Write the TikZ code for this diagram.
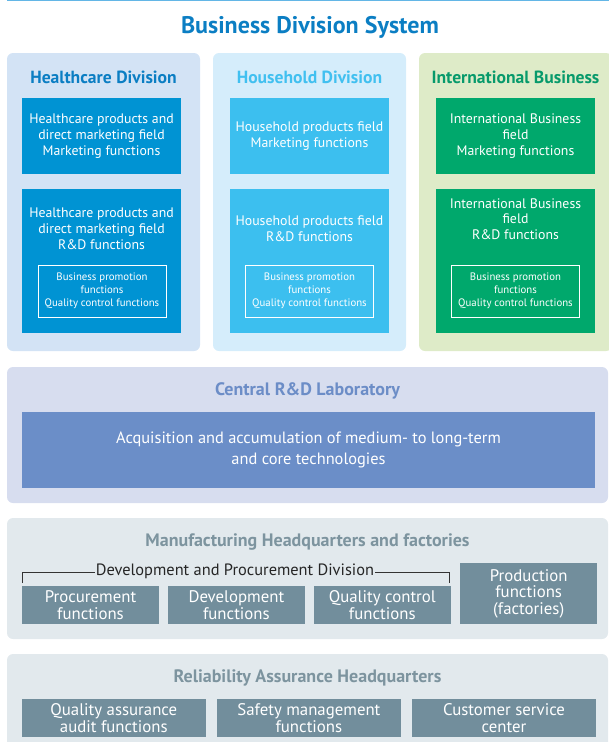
\documentclass[tikz,border=0pt]{standalone}
\usepackage{fontspec}
\setmainfont{PT Sans}
\usetikzlibrary{positioning}
\definecolor{topline}{HTML}{63B6E6}
\definecolor{maintitle}{HTML}{0B7EC3}
\definecolor{hcbg}{HTML}{D3E3F5}
\definecolor{hcblue}{HTML}{0093D3}
\definecolor{hhbg}{HTML}{D5EDFB}
\definecolor{hhtitle}{HTML}{41C0F0}
\definecolor{hhblue}{HTML}{3CBFEF}
\definecolor{ibbg}{HTML}{DEEBC8}
\definecolor{ibtitle}{HTML}{079A6B}
\definecolor{ibgreen}{HTML}{00A86C}
\definecolor{labbg}{HTML}{D7DDEF}
\definecolor{labtitle}{HTML}{6C8DC7}
\definecolor{labbox}{HTML}{6B8EC8}
\definecolor{greybg}{HTML}{E2E9ED}
\definecolor{greytitle}{HTML}{7D949F}
\definecolor{greybox}{HTML}{728E9C}

\begin{document}
\begin{tikzpicture}[x=1pt,y=-1pt,
	panel/.style={rounded corners=6pt, inner sep=0pt, minimum width=193pt, minimum height=298pt},
	widepanel/.style={rounded corners=6pt, inner sep=0pt, minimum width=601pt, fill=#1},
	divtitle/.style={font=\fontsize{17.6}{20}\selectfont\bfseries},
	sectitle/.style={font=\fontsize{18}{20}\selectfont\bfseries, text=#1},
	mktbox/.style={fill=#1, text=white, align=center, inner sep=0pt, minimum width=159pt, minimum height=76pt, font=\fontsize{13.8}{15.8}\selectfont, execute at begin node={\vspace*{6pt}}},
	rdbox/.style={fill=#1, inner sep=0pt, minimum width=159pt, minimum height=144pt},
	rdtext/.style={text=white, align=center, font=\fontsize{13.8}{15.8}\selectfont},
	subbox/.style={draw=white, line width=0.8pt, text=white, align=center, inner sep=0pt, minimum width=128pt, minimum height=52pt, font=\fontsize{10.8}{13.2}\selectfont},
	graybox/.style={fill=greybox, text=white, align=center, inner sep=0pt, minimum height=38pt, font=\fontsize{16.8}{16.5}\selectfont},
]
\useasboundingbox (0,0) rectangle (609,742);

\coordinate (tl) at (7,0.7);
\coordinate (tr) at (609,0.7);
\draw[topline, line width=1.4pt] (tl) -- (tr);
\node[font=\fontsize{24}{26}\selectfont\bfseries, text=maintitle] (title) at (310,27.5) {Business Division System};

\node[panel, fill=hcbg] (hcpanel) at (103.5,202) {};
\node[panel, fill=hhbg] (hhpanel) at (309.5,202) {};
\node[panel, fill=ibbg] (ibpanel) at (515.5,202) {};

\node[divtitle, text=maintitle] (hctitle) at (103.5,77) {Healthcare Division};
\node[divtitle, text=hhtitle] (hhtitle) at (309.5,77) {Household Division};
\node[divtitle, text=ibtitle] (ibtitle) at (515.5,77) {International Business};

\node[mktbox=hcblue] (hcmkt) at (101.5,136) {Healthcare products and\\direct marketing field\\Marketing functions};
\node[rdbox=hcblue, below=15pt of hcmkt] (hcrd) {};
\node[rdtext] (hcrdtext) at (101.5,228.5) {Healthcare products and\\direct marketing field\\R\&D functions};
\node[subbox] (hcsub) at (102,291) {Business promotion\\functions\\Quality control functions};

\node[mktbox=hhblue] (hhmkt) at (309.5,136) {Household products field\\Marketing functions};
\node[rdbox=hhblue, below=15pt of hhmkt] (hhrd) {};
\node[rdtext] (hhrdtext) at (309.5,228.5) {Household products field\\R\&D functions};
\node[subbox] (hhsub) at (309.5,291) {Business promotion\\functions\\Quality control functions};

\node[mktbox=ibgreen] (ibmkt) at (515.5,136) {International Business\\field\\Marketing functions};
\node[rdbox=ibgreen, below=15pt of ibmkt] (ibrd) {};
\node[rdtext] (ibrdtext) at (515.5,219) {International Business\\field\\R\&D functions};
\node[subbox] (ibsub) at (515.5,291) {Business promotion\\functions\\Quality control functions};

\node[widepanel=labbg, minimum height=136pt] (labpanel) at (307.5,435) {};
\node[sectitle=labtitle] (labtitle) at (307.5,391) {Central R\&D Laboratory};
\node[fill=labbox, text=white, align=center, inner sep=0pt, minimum width=573pt, minimum height=76pt, font=\fontsize{16.4}{21.7}\selectfont] (labbox) at (308.5,450) {Acquisition and accumulation of medium- to long-term\\and core technologies};

\node[widepanel=greybg, minimum height=121pt] (mfpanel) at (307.5,578.5) {};
\node[sectitle=greytitle] (mftitle) at (307.5,542) {Manufacturing Headquarters and factories};
\coordinate (brl) at (22.5,583);
\coordinate (brr) at (449.5,583);
\draw[line width=0.8pt, black!80] (brl) -- ([yshift=11pt]brl) -- ([yshift=11pt]brr) -- (brr);
\node[fill=greybg, inner sep=0.5pt, font=\fontsize{16.4}{18}\selectfont, text=black!85] (devlabel) at (235,571.5) {Development and Procurement Division};
\node[graybox, minimum width=137pt] (procf) at (90.5,605) {Procurement\\functions};
\node[graybox, minimum width=137pt, right=8.5pt of procf] (devf) {Development\\functions};
\node[graybox, minimum width=137pt, right=8.5pt of devf] (qcf) {Quality control\\functions};
\node[graybox, minimum width=137pt, minimum height=61pt, anchor=south west] (prodf) at ([xshift=9pt]qcf.south east) {Production\\functions\\(factories)};

\node[widepanel=greybg, minimum height=100pt] (rapanel) at (307.5,704) {};
\node[sectitle=greytitle] (ratitle) at (307.5,678) {Reliability Assurance Headquarters};
\node[graybox, minimum width=183.7pt] (qaf) at (113.8,718) {Quality assurance\\audit functions};
\node[graybox, minimum width=183.7pt, right=11pt of qaf] (smf) {Safety management\\functions};
\node[graybox, minimum width=183.7pt, right=11pt of smf] (csc) {Customer service\\center};
\end{tikzpicture}
\end{document}
